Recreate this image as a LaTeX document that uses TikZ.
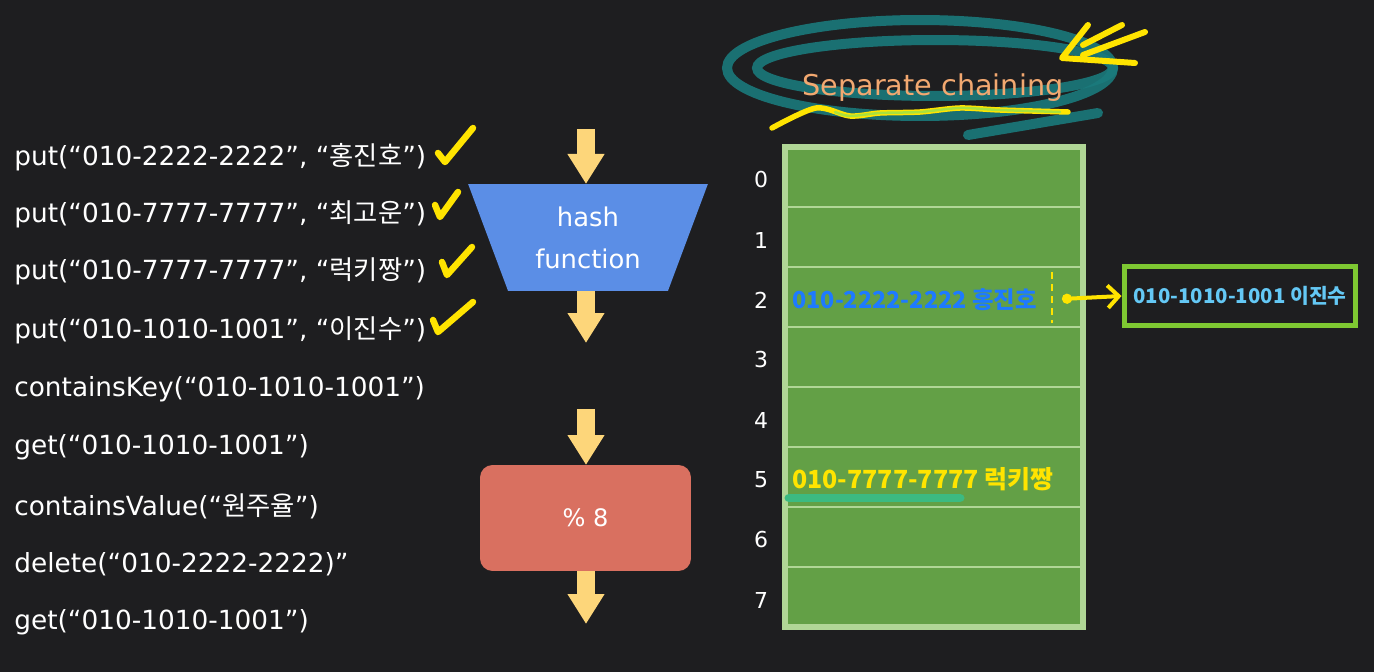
\documentclass[tikz,border=0pt]{standalone}
\usepackage{fontspec}
\setmainfont{DejaVu Sans}
\newfontfamily\krfont{Noto Sans CJK KR}
\usepackage{tikz}
\usetikzlibrary{shapes.geometric, arrows.meta, positioning}
\definecolor{bgcolor}{RGB}{30, 30, 32}
\definecolor{tickyellow}{RGB}{255, 228, 0}
\definecolor{arrowcolor}{RGB}{253, 214, 122}
\definecolor{hashcolor}{RGB}{91, 142, 230}
\definecolor{modcolor}{RGB}{217, 112, 96}
\definecolor{cellgreen}{RGB}{99, 160, 70}
\definecolor{gridline}{RGB}{176, 214, 150}
\definecolor{titlecolor}{RGB}{242, 168, 112}
\definecolor{ringcolor}{RGB}{26, 122, 124}
\definecolor{handblue}{RGB}{30, 122, 255}
\definecolor{handcyan}{RGB}{100, 200, 245}
\definecolor{limegreen}{RGB}{126, 200, 50}
\definecolor{markgreen}{RGB}{60, 186, 130}
\definecolor{wavegreen}{RGB}{170, 225, 60}
\newcommand{\kr}[1]{{\krfont #1}}

\begin{document}
\begin{tikzpicture}[
    x=0.02cm, y=-0.02cm,
    cmd/.style={anchor=west, inner sep=0pt, text=white, font=\fontsize{15}{17}\selectfont},
    tick/.style={draw=tickyellow, line width=0.13cm, line cap=round, line join=round},
    flow/.style={draw=arrowcolor, line width=0.36cm, -{Triangle[length=0.6cm, width=0.7cm]}},
    hashbox/.style={trapezium, trapezium angle=67, shape border rotate=180, trapezium stretches=true, fill=hashcolor, minimum width=4.8cm, minimum height=2.14cm, inner sep=0pt, outer sep=0pt, text=white, align=center, font=\fontsize{14.7}{24}\selectfont},
    modbox/.style={fill=modcolor, rounded corners=0.25cm, minimum width=4.22cm, minimum height=2.12cm, inner sep=0pt, outer sep=0pt, text=white, font=\fontsize{13.7}{16}\selectfont},
    idx/.style={text=white, inner sep=0pt, font=\fontsize{12.5}{14}\selectfont},
    hand/.style={anchor=west, inner sep=0pt, font=\krfont\bfseries\fontsize{#1}{15}\selectfont},
    pointer/.style={draw=tickyellow, line width=0.08cm, {Circle[length=0.2cm]}-{Straight Barb[length=0.22cm, width=0.45cm]}}
]
    \useasboundingbox (0,0) rectangle (1374,672);
    \fill[bgcolor] (0,0) rectangle (1374,672);

    % Operations
    \node[cmd] (op1) at (14,157) {put(“010-2222-2222”, “\kr{홍진호}”)};
    \node[cmd] (op2) at (14,214) {put(“010-7777-7777”, “\kr{최고운}”)};
    \node[cmd] (op3) at (14,271) {put(“010-7777-7777”, “\kr{럭키짱}”)};
    \node[cmd] (op4) at (14,330) {put(“010-1010-1001”, “\kr{이진수}")};
    \node[cmd] (op5) at (14,389) {containsKey(“010-1010-1001”)};
    \node[cmd] (op6) at (14,447) {get(“010-1010-1001”)};
    \node[cmd] (op7) at (14,506) {containsValue(“\kr{원주율}”)};
    \node[cmd] (op8) at (14,564) {delete(“010-2222-2222)”};
    \node[cmd] (op9) at (14,622) {get(“010-1010-1001”)};

    % Check marks
    \draw[tick] (438,153) -- (445,162) -- (473,128);
    \draw[tick] (435,205) -- (440,217) -- (458,192);
    \draw[tick] (442,262) -- (447,275) -- (472,247);
    \draw[tick] (433,320) -- (438,332) -- (473,302);

    % Hash function and modulo
    \node[hashbox] (hash) at (588,237.5) {hash\\function};
    \node[modbox] (mod) at (585.5,518) {\% 8};

    \coordinate (in) at (586,129);
    \coordinate (hashout) at (586,343);
    \coordinate (modin) at (586,409);
    \coordinate (out) at (586,624);
    \draw[flow] (in) -- (in |- hash.north);
    \draw[flow] (hashout |- hash.south) -- (hashout);
    \draw[flow] (modin) -- (modin |- mod.north);
    \draw[flow] (out |- mod.south) -- (out);

    % Title with scribbles
    \draw[ringcolor, line width=0.2cm, opacity=0.9] (920,68) ellipse [x radius=3.86cm, y radius=0.96cm];
    \draw[ringcolor, line width=0.2cm, opacity=0.9] (935,68) ellipse [x radius=3.56cm, y radius=0.56cm];
    \draw[ringcolor, line width=0.2cm, line cap=round, opacity=0.9] (1098,113) -- (968,135);
    \node[text=titlecolor, font=\fontsize{16.3}{18}\selectfont] (title) at (933,88) {Separate chaining};
    \draw[tickyellow, line width=0.11cm, line cap=round] plot[smooth] coordinates {(772,128) (816,108) (850,116) (880,113) (920,112) (960,108) (1000,110) (1068,112)};
    \draw[wavegreen, line width=0.05cm, line cap=round] plot[smooth] coordinates {(835,112) (850,116) (880,113) (920,112) (960,108) (1000,110) (1060,112)};
    \draw[tick, line width=0.12cm] (1088,25) -- (1062,58) -- (1135,63);
    \draw[tick, line width=0.12cm] (1083,45) -- (1122,25);
    \draw[tick, line width=0.12cm] (1083,55) -- (1145,32);

    % Bucket table
    \node[draw=gridline, line width=0.12cm, fill=cellgreen, minimum width=5.96cm, minimum height=9.6cm, inner sep=0pt] (table) at (934,387) {};
    \foreach \i in {1,...,7}
        \draw[gridline, line width=0.05cm] (788,{147+60*\i}) -- (1080,{147+60*\i});
    \foreach \i in {0,...,7}
        \node[idx] (idx\i) at (761,{180+60*\i}) {\i};

    % Bucket 2 chain
    \node[hand=13.3, text=handblue] (entry2) at (792,300) {010-2222-2222 홍진호};
    \draw[tickyellow, line width=0.05cm, dash pattern=on 0.14cm off 0.1cm] (1052,272) -- (1052,323);
    \node[draw=limegreen, line width=0.1cm, minimum width=4.64cm, minimum height=1.2cm, text=handcyan, font=\krfont\bfseries\fontsize{11.6}{14}\selectfont] (chain) at (1240,296) {010-1010-1001 이진수};
    \coordinate (ptr) at (1062,299);
    \draw[pointer] (ptr) -- (chain.west);

    % Bucket 5
    \draw[markgreen, line width=0.18cm, line cap=round] (789,498) -- (960,498);
    \node[hand=14.2, text=tickyellow] (entry5) at (792,479) {010-7777-7777 럭키짱};

\end{tikzpicture}
\end{document}
